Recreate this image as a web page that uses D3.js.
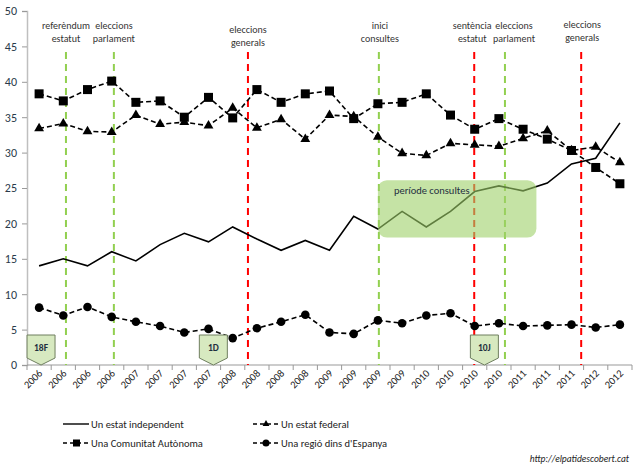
<!DOCTYPE html>
<html>
<head>
<meta charset="utf-8">
<script src="https://cdn.jsdelivr.net/npm/d3@7"></script>
<style>
  body { margin: 0; background: #fff; }
  svg { font-family: Carlito, "Liberation Sans Narrow", "Open Sans", sans-serif; }
</style>
</head>
<body>
<div class="canvas"></div>
<script>
// x categories (one per poll)
const years = ['2006','2006','2006','2006','2007','2007','2007','2007','2008','2008','2008','2008',
  '2009','2009','2009','2009','2010','2010','2010','2010','2011','2011','2011','2012','2012'];

// series values (%)
const independent = [14.0,15.0,14.0,16.0,14.7,17.0,18.6,17.4,19.5,17.8,16.2,17.6,16.2,21.0,19.2,21.7,19.5,21.7,24.5,25.3,24.6,25.7,28.4,29.2,34.2];
const federal     = [33.4,34.1,33.0,32.9,35.3,34.0,34.3,33.8,36.3,33.5,34.7,31.9,35.3,35.1,32.2,29.9,29.6,31.3,31.1,30.9,32.0,33.1,30.3,30.8,28.6];
const autonomia   = [38.3,37.3,38.9,40.1,37.1,37.3,35.0,37.8,34.9,38.9,37.1,38.3,38.7,34.8,36.9,37.1,38.3,35.3,33.3,34.8,33.3,31.9,30.3,27.9,25.6];
const regio       = [8.1,7.0,8.2,6.8,6.1,5.5,4.6,5.1,3.8,5.2,6.1,7.1,4.6,4.4,6.3,5.9,7.0,7.3,5.5,5.9,5.5,5.6,5.7,5.3,5.7];

const yTicks = [0,5,10,15,20,25,30,35,40,45,50];

// events: position in category units, label lines, colour type
const eventPos    = [1.11, 3.09, 8.63, 14.04, 17.98, 19.25, 22.4];
const eventLabels = [['referèndum','estatut'],['eleccions','parlament'],['eleccions','generals'],
  ['inici','consultes'],['sentència','estatut'],['eleccions','parlament'],['eleccions','generals']];
const eventKind   = ['green','green','red','green','red','green','red'];

// dates marked on the axis
const markPos    = [0.08, 7.2, 18.4];
const markLabels = ['18F','1D','10J'];

// shaded period
const periodFrom = 14.0, periodTo = 20.55;
const periodLabel = 'període consultes';

const W = 640, H = 469;
const svg = d3.select('.canvas').append('svg')
    .attr('width', W)
    .attr('height', H);

const margin = { left: 27, right: 632, top: 11, bottom: 365 };

const x = d3.scaleBand()
    .domain(d3.range(years.length))
    .range([margin.left, margin.right]);
const bw = x.bandwidth();
// continuous position from category index (for things between points)
const xc = d3.scaleLinear()
    .domain([0, years.length - 1])
    .range([x(0) + bw / 2, x(years.length - 1) + bw / 2]);

const y = d3.scaleLinear()
    .domain([0, 50])
    .range([margin.bottom, margin.top]);

// axes
const yAxis = d3.axisLeft(y).tickValues(yTicks).tickSize(5).tickPadding(5);
const yG = svg.append('g').attr('transform', `translate(${margin.left},0)`).call(yAxis);
yG.select('.domain').attr('stroke', '#bfbfbf').attr('stroke-width', 1.5);
yG.selectAll('.tick line').attr('stroke', '#999');
yG.selectAll('text').attr('font-size', 12).attr('fill', '#2a3a4a')
    .attr('font-family', 'Carlito, "Liberation Sans Narrow", "Open Sans", sans-serif');

const xG = svg.append('g').attr('transform', `translate(0,${margin.bottom})`);
xG.append('line').attr('x1', margin.left).attr('x2', margin.right).attr('stroke', '#999');
xG.selectAll('.tk').data(d3.range(years.length + 1)).join('line')
    .attr('x1', d => margin.left + d * bw).attr('x2', d => margin.left + d * bw)
    .attr('y1', 0).attr('y2', 5).attr('stroke', '#999');
xG.selectAll('.lbl').data(years).join('text')
    .attr('transform', (d, i) => `translate(${x(i) + bw / 2 + 4},${9}) rotate(-45)`)
    .attr('text-anchor', 'end')
    .attr('font-size', 10.5)
    .attr('fill', '#222')
    .text(d => d);

// event lines
const evColor = { green: '#92d050', red: '#ff0000' };
svg.selectAll('.ev').data(eventPos).join('line')
    .attr('x1', d => xc(d)).attr('x2', d => xc(d))
    .attr('y1', 52).attr('y2', margin.bottom)
    .attr('stroke', (d, i) => evColor[eventKind[i]])
    .attr('stroke-width', 2)
    .attr('stroke-dasharray', '7,5');

// event labels (small nudges to match the original placement)
const labelDx = [0, 0, 0, 1, -2, 9, 1];
const labelDy = [0, 0, 4, 0, 0, 0, -1];
eventLabels.forEach((lines, i) => {
  const t = svg.append('text')
      .attr('x', xc(eventPos[i]) + labelDx[i])
      .attr('y', 29 + labelDy[i])
      .attr('text-anchor', 'middle')
      .attr('font-size', 10)
      .attr('fill', '#333');
  lines.forEach((s, j) => t.append('tspan')
      .attr('x', xc(eventPos[i]) + labelDx[i])
      .attr('dy', j ? 13 : 0)
      .text(s));
});

// series
const dashed = '5,3';
const line = d3.line().x((d, i) => x(i) + bw / 2).y(d => y(d));

function drawSeries(data, dash, marker) {
  svg.append('path').datum(data)
      .attr('d', line)
      .attr('fill', 'none')
      .attr('stroke', '#000')
      .attr('stroke-width', 1.6)
      .attr('stroke-dasharray', dash);
  if (marker === 'square') {
    svg.append('g').selectAll('rect').data(data).join('rect')
        .attr('x', (d, i) => x(i) + bw / 2 - 4.5)
        .attr('y', d => y(d) - 4.5)
        .attr('width', 9).attr('height', 9).attr('fill', '#000');
  } else if (marker === 'triangle') {
    const sym = d3.symbol(d3.symbolTriangle, 42);
    svg.append('g').selectAll('path').data(data).join('path')
        .attr('d', sym)
        .attr('transform', (d, i) => `translate(${x(i) + bw / 2},${y(d)})`)
        .attr('fill', '#000');
  } else if (marker === 'circle') {
    svg.append('g').selectAll('circle').data(data).join('circle')
        .attr('cx', (d, i) => x(i) + bw / 2)
        .attr('cy', d => y(d))
        .attr('r', 4.3).attr('fill', '#000');
  }
}

drawSeries(independent, null, null);
drawSeries(federal, dashed, 'triangle');
drawSeries(autonomia, dashed, 'square');
drawSeries(regio, dashed, 'circle');

// shaded consultation period (on top, translucent)
svg.append('rect')
    .attr('x', xc(periodFrom)).attr('width', xc(periodTo) - xc(periodFrom))
    .attr('y', y(26.1)).attr('height', y(18.0) - y(26.1))
    .attr('rx', 9)
    .attr('fill', '#9ed069').attr('fill-opacity', 0.6);
svg.append('text')
    .attr('x', xc(periodFrom) + 16).attr('y', y(26.1) + 14)
    .attr('font-size', 10.5).attr('fill', '#1f2f3f')
    .text(periodLabel);

// date markers on the axis (pentagon pointing down)
const mk = svg.selectAll('.mk').data(markPos).join('g')
    .attr('transform', d => `translate(${xc(d)},${margin.bottom})`);
mk.append('path')
    .attr('d', 'M-14,-30 L14,-30 L14,-7 L0,0 L-14,-7 Z')
    .attr('fill', '#d7e9c0')
    .attr('stroke', '#6f7f5f')
    .attr('stroke-width', 1);
mk.append('text')
    .attr('y', -14)
    .attr('text-anchor', 'middle')
    .attr('font-size', 9.5)
    .attr('font-weight', 'bold')
    .attr('fill', '#1f2f3f')
    .text((d, i) => markLabels[i]);

// legend
const legend = [
  { name: 'Un estat independent', dash: null, marker: null, lx: 63, ly: 424 },
  { name: 'Un estat federal', dash: '4,3', marker: 'triangle', lx: 253, ly: 424 },
  { name: 'Una Comunitat Autònoma', dash: '4,3', marker: 'square', lx: 63, ly: 443 },
  { name: "Una regió dins d'Espanya", dash: '4,3', marker: 'circle', lx: 253, ly: 443 }
];
const lg = svg.selectAll('.lg').data(legend).join('g')
    .attr('transform', d => `translate(${d.lx},${d.ly})`);
lg.append('line')
    .attr('x1', 0).attr('x2', 26)
    .attr('stroke', '#000').attr('stroke-width', 1.4)
    .attr('stroke-dasharray', d => d.dash);
lg.filter(d => d.marker === 'square').append('rect')
    .attr('x', 10).attr('y', -3.5).attr('width', 7).attr('height', 7);
lg.filter(d => d.marker === 'circle').append('circle')
    .attr('cx', 13).attr('r', 3.5);
lg.filter(d => d.marker === 'triangle').append('path')
    .attr('d', d3.symbol(d3.symbolTriangle, 20))
    .attr('transform', 'translate(13,0)');
lg.append('text')
    .attr('x', 28).attr('dy', '0.35em')
    .attr('font-size', 10.5).attr('fill', '#222')
    .text(d => d.name);

svg.append('text')
    .attr('x', 629).attr('y', 462)
    .attr('text-anchor', 'end')
    .attr('font-size', 9.5)
    .attr('font-style', 'italic')
    .attr('fill', '#222')
    .text('http://elpatidescobert.cat');
</script>
</body>
</html>
